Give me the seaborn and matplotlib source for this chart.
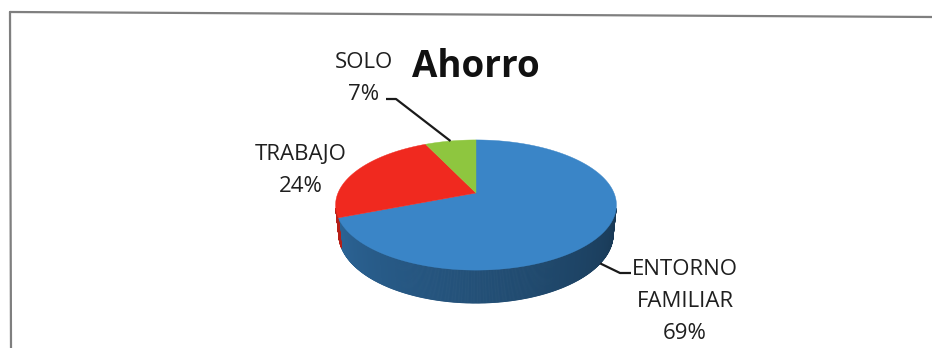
import numpy as np
import matplotlib
matplotlib.use("Agg")
import matplotlib.pyplot as plt
from matplotlib.collections import PolyCollection
from matplotlib.colors import to_rgb
import seaborn as sns

# Data
categories = ["ENTORNO\nFAMILIAR", "TRABAJO", "SOLO"]
values = [69, 24, 7]
colors = ["#3a85c7", "#f0291f", "#8ec63f"]
title = "Ahorro"

sns.set_theme(style="white")
plt.rcParams["font.family"] = ["Open Sans", "DejaVu Sans"]

W, H = 932, 348
fig = plt.figure(figsize=(W / 100, H / 100), dpi=100)
fig.patch.set_facecolor("white")
ax = fig.add_axes([0, 0, 1, 1])
ax.set_xlim(0, W)
ax.set_ylim(H, 0)
ax.axis("off")

# Perspective view of a flat cylinder (3D pie)
cx, cy = 476, 193
R = 138
tilt = np.deg2rad(27.1)
dist = 4.82
depth = 0.239


def project(x, y, z):
    v = y * np.sin(tilt) + z * np.cos(tilt)
    w = y * np.cos(tilt) - z * np.sin(tilt)
    s = dist / (dist + w)
    return cx + R * x * s, cy - R * v * s


def rim(theta, z=0.0):
    return project(np.cos(theta), np.sin(theta), z)


fracs = np.array(values, dtype=float) / np.sum(values)
# start at 12 o'clock, run clockwise
bounds = np.pi / 2 - 2 * np.pi * np.concatenate([[0.0], np.cumsum(fracs)])
visible_limit = -1.0 / (dist * np.cos(tilt))

# side walls, shaded darker towards the right
for i, col in enumerate(colors):
    lo, hi = bounds[i + 1], bounds[i]
    th = np.linspace(lo, hi, 600)
    base = np.array(to_rgb(col))
    polys, fcs = [], []
    for a, b in zip(th[:-1], th[1:]):
        if np.sin(a) >= visible_limit or np.sin(b) >= visible_limit:
            continue
        xa0, ya0 = rim(a, 0)
        xb0, yb0 = rim(b, 0)
        xa1, ya1 = rim(a, -depth)
        xb1, yb1 = rim(b, -depth)
        polys.append([(xa0, ya0), (xb0, yb0), (xb1, yb1), (xa1, ya1)])
        deg = np.degrees(np.arctan2(np.sin(a), np.cos(a)))
        t = (deg + 90) / 90.0
        f = 0.6 - 0.2 * t
        fcs.append(np.clip(base * f, 0, 1))
    if polys:
        pc = PolyCollection(polys, facecolors=fcs, edgecolors=fcs,
                            linewidths=0.6, zorder=1)
        ax.add_collection(pc)

# top faces
vx, vy = project(0.0, 0.0, 0.0)
for i, col in enumerate(colors):
    th = np.linspace(bounds[i], bounds[i + 1], 300)
    xs, ys = rim(th, 0)
    ax.fill(np.r_[vx, xs], np.r_[vy, ys], color=col, lw=0.3, ec=col, zorder=2)

# labels
txt_color = "#1f1f1f"
label_base = [(685, 275), (301, 160), (364, 68)]
line_step = 32
for (lx, ly), name, val in zip(label_base, categories, values):
    lines = name.split("\n") + [f"{val}%"]
    for k, line in enumerate(lines):
        ax.text(lx, ly + k * line_step, line, ha="center", va="baseline",
                fontsize=16, color=txt_color, zorder=5)

# leader lines
solo_mid = 0.5 * (bounds[2] + bounds[3])
sx, sy = rim(solo_mid, 0)
ax.plot([386, 396, sx], [99, 99, sy], color="#1a1a1a", lw=1.6,
        solid_capstyle="butt", zorder=4)
ent_mid = 0.5 * (bounds[0] + bounds[1])
ex, ey = rim(ent_mid, -depth)
ax.plot([ex, 620, 631], [ey, 273, 273], color="#1a1a1a", lw=1.6,
        solid_capstyle="butt", zorder=4)

# title
ax.text(476, 77, title, ha="center", va="baseline", fontsize=26.5,
        fontweight="bold", color="#111111", zorder=5)

# chart frame
ax.plot([10, 932], [12, 17], color="#7f7f7f", lw=1.6, zorder=3)
ax.plot([10, 11], [12, 348], color="#7f7f7f", lw=1.6, zorder=3)

fig.savefig("out.png", dpi=100, facecolor="white")
